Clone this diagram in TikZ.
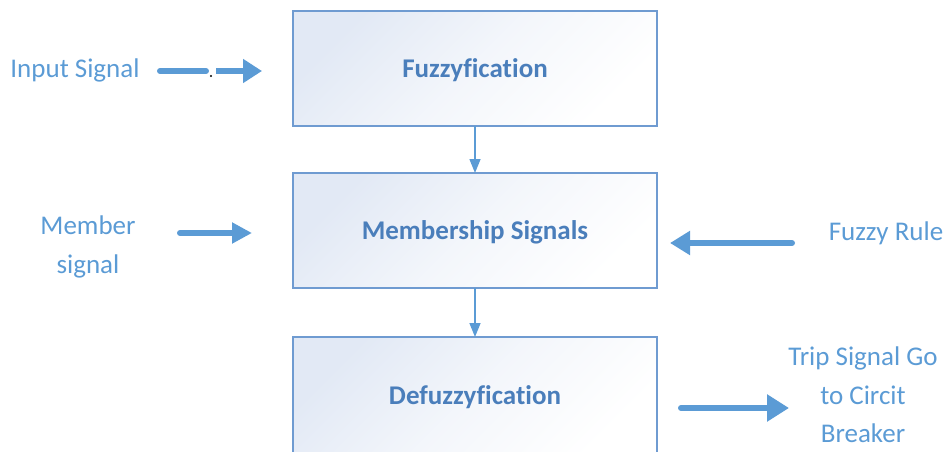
\documentclass[tikz,border=0pt]{standalone}
\usepackage{fontspec}
\setmainfont[Ligatures=CommonOff]{Carlito}
\usetikzlibrary{arrows.meta}
\definecolor{txtblue}{HTML}{5B9BD5}
\definecolor{boldblue}{HTML}{4A7EBB}
\definecolor{boxline}{HTML}{6F9BD1}
\definecolor{boxfill}{HTML}{E2E9F5}
\definecolor{arrblue}{HTML}{5B9BD5}
\tikzset{
  lbl/.style={text=txtblue, font=\fontsize{27}{38.5}\selectfont, align=center, inner sep=0pt},
  blockbox/.style={draw=boxline, line width=1.5pt, minimum width=364pt, minimum height=115pt,
    inner sep=0pt, outer sep=0pt, text depth=0pt,
    top color=boxfill, bottom color=white, middle color=white!60!boxfill, shading angle=45,
    text=boldblue, font=\fontsize{27}{32}\selectfont\bfseries},
  thin arrow/.style={draw=arrblue, line width=1.5pt, -{Triangle[length=14pt,width=11pt]}},
  fat line/.style={draw=arrblue, line width=6pt, line cap=round},
  fat arrow/.style={fat line, -{Triangle[length=20pt,width=23pt]}}
}
\begin{document}
\begin{tikzpicture}[x=1pt,y=-1pt]
\useasboundingbox (0,0) rectangle (946,452);
% blocks
\node[blockbox] (fuzz) at (475,68.5) {Fuzzyfication};
\node[blockbox] (memb) at (475,230.5) {Membership Signals};
\node[blockbox, minimum height=117pt] (defuzz) at (475,395.5) {Defuzzyfication};
% labels
\node[lbl] (input) at (75,70) {Input Signal};
\node[lbl] (member) at (88,247) {Member\\signal};
\node[lbl] (rule) at (886,233) {Fuzzy Rule};
\node[lbl] (trip) at (863,395) {Trip Signal Go\\to Circit\\Breaker};
% vertical connectors
\draw[thin arrow] (fuzz.south) -- (memb.north);
\draw[thin arrow] (memb.south) -- (defuzz.north);
% input arrow (broken with a stray dot)
\coordinate (inA) at (160,71);
\coordinate (inB) at (206,71);
\coordinate (inC) at (216,71);
\coordinate (inD) at (262,71);
\draw[fat line] (inA) -- (inB);
\draw[fat arrow, line cap=butt, -{Triangle[length=19pt,width=23pt]}] (inC) -- (inD);
\fill[black] (211,76) circle (1.1pt);
% member arrow
\coordinate (mA) at (180,233);
\coordinate (mB) at (252,233);
\draw[fat arrow, -{Triangle[length=20pt,width=20pt]}] (mA) -- (mB);
% fuzzy rule arrow
\coordinate (rA) at (792,243);
\coordinate (rB) at (670,243);
\draw[fat arrow] (rA) -- (rB);
% trip arrow
\coordinate (tA) at (681,408);
\coordinate (tB) at (789,408);
\draw[fat arrow, -{Triangle[length=22pt,width=26pt]}] (tA) -- (tB);
\end{tikzpicture}
\end{document}
